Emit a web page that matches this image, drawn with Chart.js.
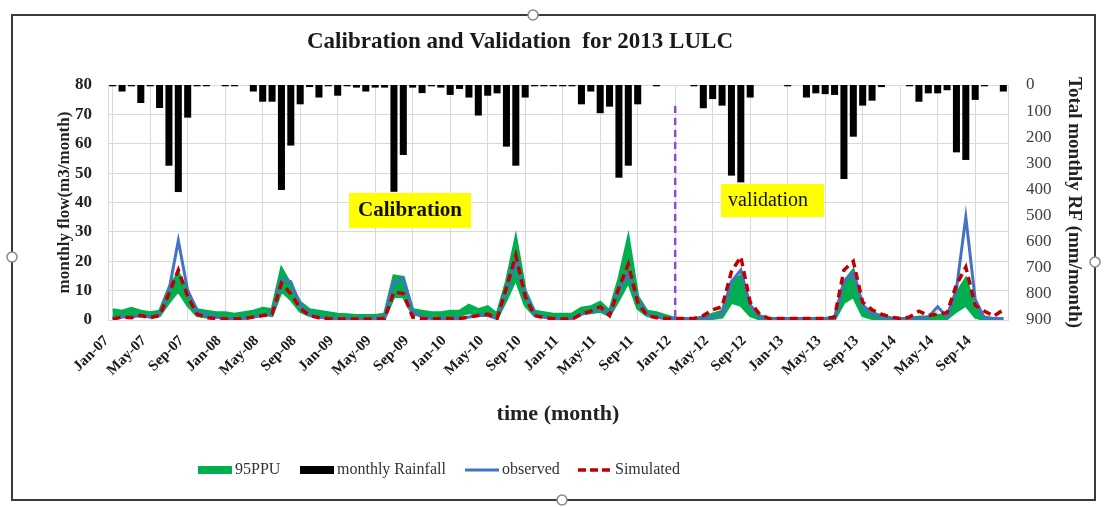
<!DOCTYPE html>
<html><head><meta charset="utf-8">
<script src="https://cdn.jsdelivr.net/npm/chart.js@4.4.1/dist/chart.umd.min.js"></script>
<style>html,body{margin:0;padding:0;background:#fff;}#wrap{position:relative;width:1105px;height:507px;}</style>
</head><body><div id="wrap"><canvas id="c" width="1105" height="507"></canvas></div>
<script>
// ---------- DATA ----------
const monthNames = ['Jan','Feb','Mar','Apr','May','Jun','Jul','Aug','Sep','Oct','Nov','Dec'];
const yearCodes = ['07','08','09','10','11','12','13','14'];
const categories = yearCodes.flatMap(y => monthNames.map(m => m + '-' + y));
const tickLabels = ['Jan-07','May-07','Sep-07','Jan-08','May-08','Sep-08','Jan-09','May-09','Sep-09',
  'Jan-10','May-10','Sep-10','Jan-11','May-11','Sep-11','Jan-12','May-12','Sep-12',
  'Jan-13','May-13','Sep-13','Jan-14','May-14','Sep-14'];
const splitCategory = 'Jan-12';

// monthly rainfall (mm/month), right reversed axis
const rainfall = [
  5, 25, 5, 69, 5, 88, 309, 410, 125, 5, 5, 0,      // 2007
  5, 5, 0, 25, 64, 64, 402, 232, 74, 8, 48, 5,      // 2008
  41, 5, 10, 25, 10, 10, 409, 268, 10, 31, 5, 10,   // 2009
  38, 15, 48, 117, 41, 32, 236, 309, 48, 5, 5, 5,   // 2010
  5, 5, 74, 25, 108, 83, 355, 309, 74, 0, 5, 0,     // 2011
  0, 0, 5, 89, 54, 79, 347, 373, 48, 0, 0, 0,       // 2012
  5, 0, 48, 32, 35, 38, 360, 198, 79, 60, 8, 0,     // 2013
  0, 5, 64, 32, 32, 20, 258, 287, 57, 5, 0, 25      // 2014
];
// observed flow
const observed = [
  0.5, 1, 1, 1.5, 1, 2, 10, 27, 10, 3, 1.5, 1,
  0.5, 0.5, 0.5, 1, 1.5, 2, 14, 13, 5, 2, 1, 0.5,
  0.5, 0.5, 0.5, 0.5, 0.5, 1, 13, 14, 3, 1, 0.5, 0.5,
  0.5, 0.5, 1, 1.5, 1.5, 0.5, 10, 20, 9, 2, 1, 0.5,
  0.3, 0.3, 2, 3, 4, 2, 10, 16, 7, 2, 1, 0.5,
  0.3, 0.3, 0.3, 0.5, 1, 2, 13, 17, 5, 1, 0.3, 0.3,
  0.3, 0.3, 0.3, 0.3, 0.3, 0.5, 13, 16, 5, 2, 1, 0.5,
  0.3, 0.3, 0.5, 1, 4.5, 1, 10.5, 35, 7, 0.5, 0.5, 0.3
];
// simulated flow
const simulated = [
  0.3, 1, 0.8, 1.5, 0.8, 1.5, 9, 17, 8, 2, 0.8, 0.5,
  0.3, 0.3, 0.5, 1, 1.5, 2, 12.5, 9, 4, 1.5, 0.8, 0.5,
  0.3, 0.3, 0.3, 0.3, 0.3, 0.5, 9.5, 9, 1, 0.5, 0.3, 0.5,
  0.5, 0.5, 1, 1.5, 2, 0.5, 11, 22, 8, 1.5, 0.8, 0.5,
  0.3, 0.3, 2, 3, 4.5, 1.5, 11, 19, 6, 1.5, 0.8, 0.5,
  0.5, 0.5, 0.5, 1.5, 3.5, 4.5, 16.5, 21.5, 6, 2, 0.5, 0.5,
  0.5, 0.5, 0.5, 0.5, 0.5, 1, 17, 20, 6, 3.5, 2, 1,
  0.5, 1, 3, 1.5, 2, 2.5, 12, 18, 5, 3, 1.3, 3.5
];
// 95PPU band upper / lower
const ppuUpper = [
  3.5, 3, 4, 3, 2.5, 3, 11, 16, 10, 3.5, 3, 2.5,
  2.5, 2, 2.5, 3, 4, 3.5, 17.5, 12, 6, 3.5, 3, 2.5,
  2, 1.8, 1.5, 1.5, 1.5, 2, 15, 14.5, 3.5, 3, 2.5, 2.5,
  3, 3, 5, 3.5, 4.5, 2, 13, 28, 10, 3, 2.5, 2,
  2, 2, 4, 4.5, 6, 3, 14, 28, 8, 3, 2.5, 1.5,
  0.5, 0.5, 0.5, 1, 2, 3, 13, 15, 5, 1.5, 0.5, 0.5,
  0.5, 0.5, 0.5, 0.5, 0.5, 1, 13, 17, 5, 2.5, 1.5, 0.8,
  0.5, 0.5, 1, 1, 1.5, 2, 9, 14, 4, 1, 0.5, 0.5
];
const ppuLower = [
  1, 1.5, 1.5, 1.5, 1, 1.5, 6, 10, 5, 1.5, 1, 1,
  1, 1, 1, 1.5, 2, 1.5, 10, 7, 3, 1.5, 1, 1,
  0.5, 0.5, 0.5, 0.5, 0.5, 0.5, 8, 8, 2, 1.5, 1, 1,
  1.5, 1.5, 2.5, 2, 2.5, 0.5, 7, 14, 5, 1.5, 1, 0.5,
  0.8, 0.8, 2, 2.5, 3, 1.5, 7, 13, 4, 1.5, 1, 0.5,
  0, 0, 0, 0.2, 0.5, 1, 6, 5, 1.5, 0.3, 0, 0,
  0, 0, 0, 0, 0, 0.2, 6, 8, 1.5, 0.5, 0.2, 0,
  0, 0, 0, 0, 0.3, 0.5, 3, 5, 1, 0, 0, 0
];
const leftTicks = [0, 10, 20, 30, 40, 50, 60, 70, 80];
const rightTicks = [0, 100, 200, 300, 400, 500, 600, 700, 800, 900];

// ---------- STYLE ----------
const SERIF = '"Liberation Serif", "Times New Roman", serif';
const C_GREEN = '#00b050', C_BLUE = '#4472c4', C_RED = '#c00000', C_BLACK = '#000000';

const decor = {
  id: 'decor',
  beforeDraw(chart) {
    const ctx = chart.ctx;
    ctx.save(); ctx.fillStyle = '#ffffff'; ctx.fillRect(0, 0, chart.width, chart.height); ctx.restore();
  },
  afterDatasetsDraw(chart) {
    const ctx = chart.ctx, xs = chart.scales.x;
    const x = xs.getPixelForValue(categories.indexOf(splitCategory));
    ctx.save();
    ctx.strokeStyle = '#8a4fd0'; ctx.lineWidth = 2.5; ctx.setLineDash([7, 5]);
    ctx.beginPath(); ctx.moveTo(x, 106); ctx.lineTo(x, chart.chartArea.bottom); ctx.stroke();
    ctx.restore();
  },
  afterDraw(chart) {
    const ctx = chart.ctx;
    ctx.save();
    // title
    ctx.fillStyle = '#1a1a1a'; ctx.font = 'bold 23px ' + SERIF;
    ctx.textAlign = 'center'; ctx.textBaseline = 'middle';
    ctx.fillText('Calibration and Validation  for 2013 LULC', 520, 42);
    // text boxes
    ctx.fillStyle = '#ffff00'; ctx.fillRect(349, 193, 122, 35);
    ctx.fillStyle = '#111'; ctx.font = 'bold 21px ' + SERIF;
    ctx.fillText('Calibration', 410, 211);
    ctx.fillStyle = '#ffff00'; ctx.fillRect(721, 184, 103, 33);
    ctx.fillStyle = '#111'; ctx.font = '20px ' + SERIF;
    ctx.fillText('validation', 768, 201);
    // legend
    const items = [
      {label: chart.data.datasets[2].label, color: C_GREEN, w: 8, dash: [], x: 198},
      {label: chart.data.datasets[4].label, color: C_BLACK, w: 8, dash: [], x: 300},
      {label: chart.data.datasets[1].label, color: C_BLUE, w: 3, dash: [], x: 465},
      {label: chart.data.datasets[0].label, color: C_RED, w: 3.5, dash: [8, 4], x: 578}
    ];
    ctx.font = '16px ' + SERIF; ctx.textAlign = 'left'; ctx.textBaseline = 'middle';
    const ly = 470;
    items.forEach(it => {
      ctx.strokeStyle = it.color; ctx.lineWidth = it.w; ctx.setLineDash(it.dash);
      ctx.beginPath(); ctx.moveTo(it.x, ly); ctx.lineTo(it.x + 34, ly); ctx.stroke();
      ctx.setLineDash([]);
      ctx.fillStyle = '#333'; ctx.fillText(it.label, it.x + 37, ly);
    });
    // outer frame with handles
    ctx.strokeStyle = '#3a3a3a'; ctx.lineWidth = 2;
    ctx.strokeRect(12, 15, 1083, 485);
    [[533, 15], [12, 257], [1095, 262], [562, 500]].forEach(p => {
      ctx.beginPath(); ctx.arc(p[0], p[1], 5, 0, Math.PI * 2);
      ctx.fillStyle = '#fff'; ctx.fill(); ctx.lineWidth = 1.5; ctx.strokeStyle = '#888'; ctx.stroke();
    });
    ctx.restore();
  }
};

const lineBase = {type: 'line', pointRadius: 0, pointHoverRadius: 0, tension: 0, yAxisID: 'y', fill: false};

new Chart(document.getElementById('c'), {
  type: 'bar',
  data: {
    labels: categories,
    datasets: [
      Object.assign({}, lineBase, {label: 'Simulated', data: simulated, borderColor: C_RED, borderWidth: 3.5, borderDash: [8, 5], order: 0}),
      Object.assign({}, lineBase, {label: 'observed', data: observed, borderColor: C_BLUE, borderWidth: 3, order: 1}),
      Object.assign({}, lineBase, {label: '95PPU', data: ppuUpper, borderColor: C_GREEN, backgroundColor: C_GREEN, borderWidth: 3, fill: '+1', order: 2}),
      Object.assign({}, lineBase, {label: '95PPU lower', data: ppuLower, borderColor: C_GREEN, borderWidth: 3, order: 3}),
      {type: 'bar', label: 'monthly Rainfall', data: rainfall, backgroundColor: C_BLACK, yAxisID: 'y2', order: 4, barPercentage: 0.75, categoryPercentage: 1}
    ]
  },
  options: {
    responsive: false, animation: false, devicePixelRatio: 1,
    layout: {padding: {left: 50, right: 16, top: 85, bottom: 75}},
    plugins: {legend: {display: false}, title: {display: false}, tooltip: {enabled: false}},
    scales: {
      x: {
        offset: true,
        grid: {offset: false, drawTicks: false, color: c => (c.index % 4 === 0 ? '#d9d9d9' : 'rgba(0,0,0,0)')},
        border: {display: false},
        ticks: {
          autoSkip: false, maxRotation: 45, minRotation: 45, padding: 12, labelOffset: -6, color: '#1a1a1a',
          font: {family: SERIF, size: 15, weight: 'bold'},
          callback: (v, i) => (tickLabels.includes(categories[i]) ? categories[i] : '')
        },
        title: {display: true, text: 'time (month)', color: '#222', font: {family: SERIF, size: 22, weight: 'bold'}, padding: {top: 4, bottom: 4}},
        afterFit: s => { s.height = 112; }
      },
      y: {
        position: 'left', min: 0, max: 80,
        afterBuildTicks: s => { s.ticks = leftTicks.map(v => ({value: v})); },
        ticks: {padding: 16, color: '#222', font: {family: SERIF, size: 17, weight: 'bold'}},
        grid: {color: '#d9d9d9', drawTicks: false},
        border: {display: true, color: '#d9d9d9', width: 1},
        title: {display: true, text: 'monthly flow(m3/month)', color: '#222', font: {family: SERIF, size: 17, weight: 'bold'}, padding: {top: 4, bottom: 4}},
        afterFit: s => { s.width = 58; }
      },
      y2: {
        position: 'right', reverse: true, min: 0, max: 900,
        afterBuildTicks: s => { s.ticks = rightTicks.map(v => ({value: v})); },
        ticks: {padding: 10, color: '#404040', font: {family: SERIF, size: 17}},
        grid: {display: false},
        border: {display: true, color: '#d9d9d9', width: 1},
        title: {display: true, text: 'Total monthly RF (mm/month)', color: '#222', font: {family: SERIF, size: 19, weight: 'bold'}, padding: {top: 4, bottom: 4}},
        afterFit: s => { s.width = 81; }
      }
    }
  },
  plugins: [decor]
});
</script>
</body></html>
